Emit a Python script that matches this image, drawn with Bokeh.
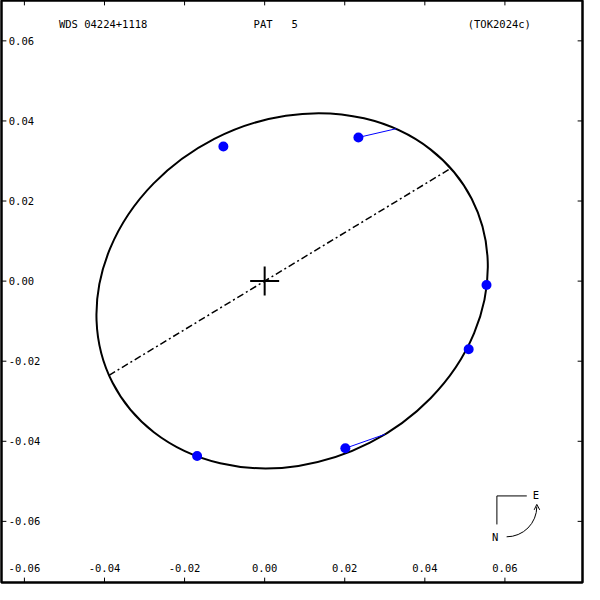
import numpy as np
from bokeh.plotting import figure
from bokeh.models import Range1d
from bokeh.core.properties import value
from bokeh.embed import file_html
from bokeh.resources import INLINE

# ---------------- data ----------------
tick_values = [-0.06, -0.04, -0.02, 0.00, 0.02, 0.04, 0.06]
tick_labels = ["-0.06", "-0.04", "-0.02", "0.00", "0.02", "0.04", "0.06"]

# observed positions and their computed (orbit) positions, arcsec
obs_x = [-0.01031, 0.02341, 0.05540, 0.05095, 0.02015, -0.01687]
obs_y = [0.03362, 0.03588, -0.00097, -0.01702, -0.04174, -0.04368]
calc_x = [-0.01031, 0.03289, 0.05540, 0.05095, 0.03004, -0.01687]
calc_y = [0.03362, 0.03807, -0.00097, -0.01702, -0.03826, -0.04368]

# apparent orbit ellipse
orbit_cx = 0.00686
orbit_cy = -0.00242
orbit_a = 0.05038
orbit_b = 0.04263
orbit_angle_deg = 27.13

node_angle_deg = 31.2

title_left = "WDS 04224+1118"
title_mid = "PAT   5"
title_right = "(TOK2024c)"

# ---------------- geometry helpers ----------------
X0, Y0, S = 271.4, 288.3, 4114.0
def dx(xr):
    return (xr - X0) / S
def dy(yr):
    return (Y0 - yr) / S

k = 584 / 600.0
xr0, xr1 = dx(1 / k), dx(582 / k)
yr0, yr1 = dy(582 / k), dy(0)

p = figure(width=584, height=584, x_range=Range1d(xr0, xr1), y_range=Range1d(yr0, yr1),
           output_backend="svg", toolbar_location=None, x_axis_type=None, y_axis_type=None,
           min_border_left=1, min_border_right=2, min_border_top=0, min_border_bottom=2)
p.grid.visible = False
p.outline_line_color = "black"
p.outline_line_width = 2.5
p.background_fill_color = "white"

FONT = value("DejaVu Sans Mono")
FS = "10.5px"

# orbit ellipse
ang = np.radians(orbit_angle_deg)
p.ellipse(x=[orbit_cx], y=[orbit_cy], width=[2*orbit_a], height=[2*orbit_b], angle=[ang],
          fill_color=None, line_color="black", line_width=2)

# line of nodes (through the primary, ending on the orbit)
phi = np.radians(node_angle_deg)
u = np.array([np.cos(phi), np.sin(phi)])
e1 = np.array([np.cos(ang), np.sin(ang)]); e2 = np.array([-np.sin(ang), np.cos(ang)])
c = np.array([orbit_cx, orbit_cy])
d1, d2 = u @ e1, u @ e2
c1, c2 = c @ e1, c @ e2
qa = d1**2/orbit_a**2 + d2**2/orbit_b**2
qb = -2*(d1*c1/orbit_a**2 + d2*c2/orbit_b**2)
qc = c1**2/orbit_a**2 + c2**2/orbit_b**2 - 1
disc = np.sqrt(qb**2 - 4*qa*qc)
t1, t2 = (-qb - disc)/(2*qa), (-qb + disc)/(2*qa)
p.line([t1*u[0], t2*u[0]], [t1*u[1], t2*u[1]], line_color="black", line_width=1.5,
       line_dash="7 3 2 3")

# O-C lines and observations
p.segment(x0=obs_x, y0=obs_y, x1=calc_x, y1=calc_y, line_color="#0000ff", line_width=1)
p.scatter(obs_x, obs_y, size=10, fill_color="#0000ff", line_color=None)

# primary
p.scatter([0], [0], marker="cross", size=29, line_color="black", line_width=2)

# ticks (inward)
n = len(tick_values)
tl = 5 / S
p.segment(x0=[xr0]*n, y0=tick_values, x1=[xr0+tl]*n, y1=tick_values, line_color="black", line_width=1)
p.segment(x0=[xr1]*n, y0=tick_values, x1=[xr1-tl]*n, y1=tick_values, line_color="black", line_width=1)
p.segment(x0=tick_values, y0=[yr0]*n, x1=tick_values, y1=[yr0+tl]*n, line_color="black", line_width=1)
p.segment(x0=tick_values, y0=[yr1]*n, x1=tick_values, y1=[yr1-tl]*n, line_color="black", line_width=1)

# tick labels
p.text(x=[dx(8.5)]*n, y=tick_values, text=tick_labels, text_font=FONT, text_font_size=FS,
       text_align="left", text_baseline="middle", text_color="black")
p.text(x=tick_values, y=[dy(583.5)]*n, text=tick_labels, text_font=FONT, text_font_size=FS,
       text_align="center", text_baseline="middle", text_color="black")

# titles (non-breaking spaces keep the monospace gaps)
titles = [title_left, title_mid, title_right]
p.text(x=[dx(60), dx(260), dx(480)], y=[dy(24)]*3, text=[t.replace(" ", "\u00a0") for t in titles],
       text_font=FONT, text_font_size=FS, text_align="left", text_baseline="middle", text_color="black")

# compass
p.line([dx(540.7), dx(510), dx(510)], [dy(509), dy(509), dy(538.3)], line_color="black", line_width=1)
p.arc(x=[dx(520)], y=[dy(520)], radius=31/S, start_angle=-np.pi/2, end_angle=0,
      line_color="black", line_width=1)
p.line([dx(548.3), dx(551), dx(554)], [dy(523.3), dy(517.7), dy(523.3)], line_color="black", line_width=1)
p.text(x=[dx(550), dx(508.3)], y=[dy(508), dy(550.7)], text=["E", "N"], text_font=FONT,
       text_font_size=FS, text_align="center", text_baseline="middle", text_color="black")

open("out.html", "w").write(file_html(p, INLINE))
